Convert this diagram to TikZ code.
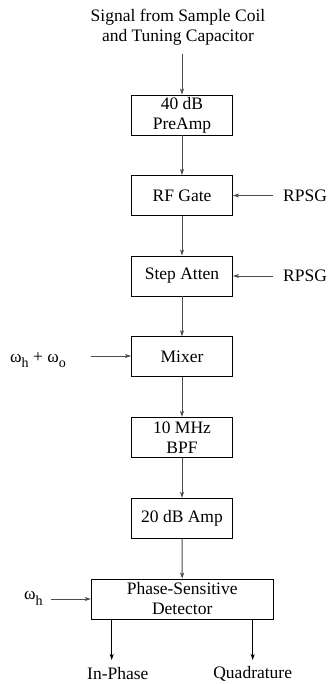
\documentclass[tikz,border=0pt]{standalone}
\usepackage{fontspec}
\setmainfont{Liberation Serif}
\usetikzlibrary{arrows.meta}
\begin{document}
\begin{tikzpicture}[x=1pt,y=-1pt,
  every node/.style={font=\fontsize{17.5}{20}\selectfont, inner sep=0pt},
  blk/.style={draw=black, line width=0.8pt, minimum width=101pt, minimum height=40pt, align=center},
  flow/.style={draw=black!70, line width=0.9pt, -{Stealth[length=6pt,width=4pt,inset=1.5pt]}},
  outflow/.style={draw=black, line width=0.8pt, -{Stealth[length=6pt,width=4pt,inset=1.5pt]}},
  lbl/.style={align=center}]
\useasboundingbox (0,0) rectangle (328,684);
\node[lbl] (sig) at (178,27) {Signal from Sample Coil\\and Tuning Capacitor};
\coordinate (sigend) at (182,54);
\node[blk] (pre) at (182,115) {40 dB\\PreAmp};
\node[blk] (gate) at (182,195.5) {RF Gate};
\node[blk] (att) at (182,276) {Step Atten};
\node[blk] (mix) at (182,356.7) {Mixer};
\node[blk] (bpf) at (182,437.3) {10 MHz\\BPF};
\node[blk] (amp) at (182,518.3) {20 dB Amp};
\node[blk, minimum width=182pt] (psd) at (182.2,599) {Phase-Sensitive\\Detector};
\node[anchor=west] (r1) at (283,195.5) {RPSG};
\node[anchor=west] (r2) at (283,276) {RPSG};
\coordinate (r1s) at (273,195.5);
\coordinate (r2s) at (273,276);
\node[anchor=base west] (wo) at (10,362) {ω\raisebox{-5pt}{\fontsize{14}{14}\selectfont h} + ω\raisebox{-5pt}{\fontsize{14}{14}\selectfont o}};
\coordinate (wos) at (91,356);
\node[anchor=base west] (wh) at (24,599) {ω\raisebox{-6pt}{\fontsize{14}{14}\selectfont h}};
\coordinate (whs) at (51,599);
\coordinate (ipo) at (111.7,619);
\coordinate (ipe) at (111.7,660);
\coordinate (qo) at (252.7,619);
\coordinate (qe) at (252.7,660);
\node (ip) at (117.8,674) {In-Phase};
\node (qu) at (252.7,674) {Quadrature};
\draw[flow] (sigend) -- (pre.north);
\draw[flow] (pre) -- (gate);
\draw[flow] (gate) -- (att);
\draw[flow] (att) -- (mix);
\draw[flow] (mix) -- (bpf);
\draw[flow] (bpf) -- (amp);
\draw[flow] (amp) -- (psd);
\draw[flow] (r1s) -- (gate.east);
\draw[flow] (r2s) -- (att.east);
\draw[flow] (wos) -- (wos -| mix.west);
\draw[flow] (whs) -- (whs -| psd.west);
\draw[outflow] (ipo) -- (ipe);
\draw[outflow] (qo) -- (qe);
\end{tikzpicture}
\end{document}
